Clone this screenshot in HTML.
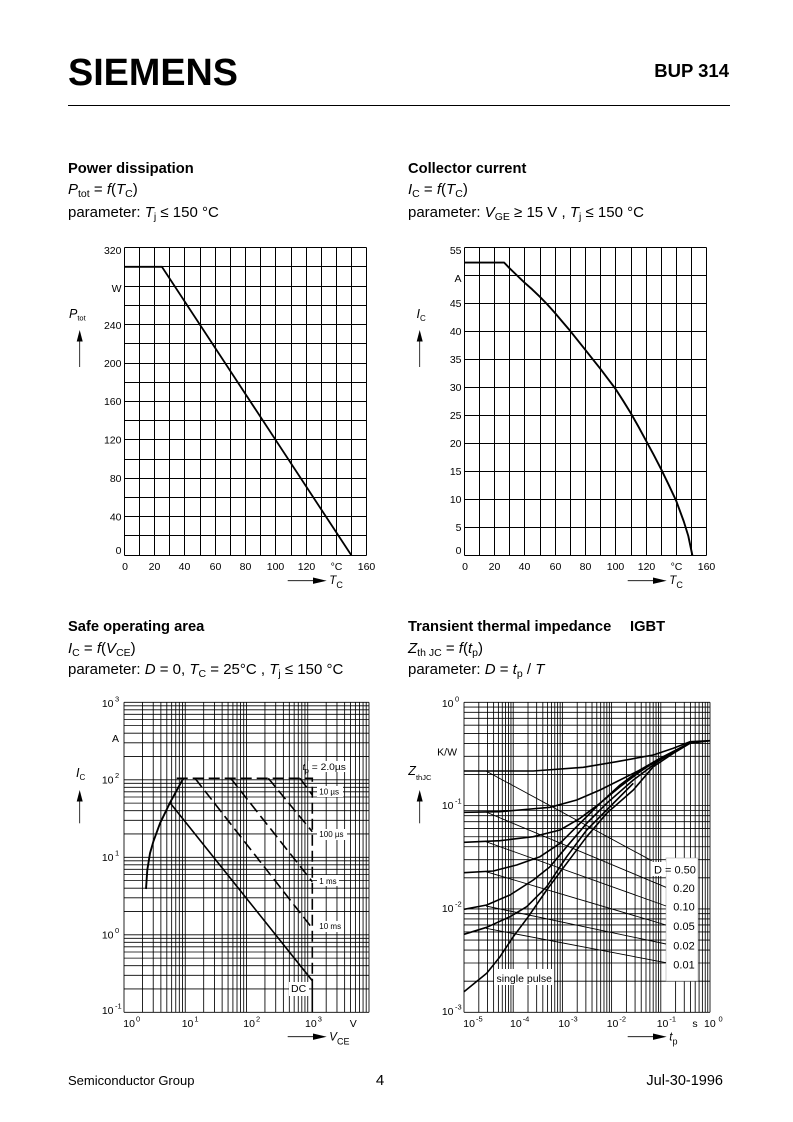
<!DOCTYPE html>
<html><head><meta charset="utf-8"><style>
html,body{margin:0;padding:0;background:#fff;}
svg{display:block;}
text{font-family:"Liberation Sans",Arial,sans-serif;fill:#000;}
</style></head><body>
<svg width="793" height="1122" viewBox="0 0 793 1122" xmlns="http://www.w3.org/2000/svg">
<defs>
<path id="tlv" d="M124.5 247.5V555.5M139.5 247.5V555.5M154.5 247.5V555.5M169.5 247.5V555.5M184.5 247.5V555.5M200.5 247.5V555.5M215.5 247.5V555.5M230.5 247.5V555.5M245.5 247.5V555.5M260.5 247.5V555.5M275.5 247.5V555.5M291.5 247.5V555.5M306.5 247.5V555.5M321.5 247.5V555.5M336.5 247.5V555.5M351.5 247.5V555.5M366.5 247.5V555.5"/>
<path id="sv" d="M0 702.3V1012.3M18.44 702.3V1012.3M29.22 702.3V1012.3M36.88 702.3V1012.3M42.81 702.3V1012.3M47.66 702.3V1012.3M51.76 702.3V1012.3M55.31 702.3V1012.3M58.45 702.3V1012.3"/>
<path id="sh" d="M124 0H369M124 -23.33H369M124 -36.98H369M124 -46.66H369M124 -54.17H369M124 -60.31H369M124 -65.5H369M124 -69.99H369M124 -73.95H369"/>
<path id="tv" d="M0 702.3V1012.3M14.81 702.3V1012.3M23.47 702.3V1012.3M29.62 702.3V1012.3M34.39 702.3V1012.3M38.28 702.3V1012.3M41.58 702.3V1012.3M44.43 702.3V1012.3M46.95 702.3V1012.3"/>
<path id="th" d="M464 0H710M464 -31.11H710M464 -49.3H710M464 -62.21H710M464 -72.23H710M464 -80.41H710M464 -87.33H710M464 -93.32H710M464 -98.6H710"/>
</defs>

<!-- Header -->
<text x="68" y="85" font-size="37.7" font-weight="bold" textLength="170" lengthAdjust="spacingAndGlyphs">SIEMENS</text>
<text x="729" y="77" font-size="18.5" font-weight="bold" text-anchor="end">BUP 314</text>
<line x1="68" y1="105.5" x2="730" y2="105.5" stroke="#000" stroke-width="1"/>

<!-- Titles top -->
<text x="68" y="173" font-size="14.7" font-weight="bold">Power dissipation</text>
<text x="68" y="194" font-size="15"><tspan font-style="italic">P</tspan><tspan font-size="10.5" dy="3">tot</tspan><tspan dy="-3"> = </tspan><tspan font-style="italic">f</tspan>(<tspan font-style="italic">T</tspan><tspan font-size="10.5" dy="3">C</tspan><tspan dy="-3">)</tspan></text>
<text x="68" y="217" font-size="15">parameter: <tspan font-style="italic">T</tspan><tspan font-size="10.5" dy="3">j</tspan><tspan dy="-3"> ≤ 150 °C</tspan></text>

<text x="408" y="173" font-size="14.7" font-weight="bold">Collector current</text>
<text x="408" y="194" font-size="15"><tspan font-style="italic">I</tspan><tspan font-size="10.5" dy="3">C</tspan><tspan dy="-3"> = </tspan><tspan font-style="italic">f</tspan>(<tspan font-style="italic">T</tspan><tspan font-size="10.5" dy="3">C</tspan><tspan dy="-3">)</tspan></text>
<text x="408" y="217" font-size="15">parameter: <tspan font-style="italic">V</tspan><tspan font-size="10.5" dy="3">GE</tspan><tspan dy="-3"> ≥ 15 V , </tspan><tspan font-style="italic">T</tspan><tspan font-size="10.5" dy="3">j</tspan><tspan dy="-3"> ≤ 150 °C</tspan></text>

<!-- Top-left chart -->
<g stroke="#000" stroke-width="1" fill="none">
<use href="#tlv"/>
<path d="M124.5 247.5H366.5M124.5 266.5H366.5M124.5 286.5H366.5M124.5 305.5H366.5M124.5 324.5H366.5M124.5 343.5H366.5M124.5 363.5H366.5M124.5 382.5H366.5M124.5 401.5H366.5M124.5 420.5H366.5M124.5 439.5H366.5M124.5 459.5H366.5M124.5 478.5H366.5M124.5 497.5H366.5M124.5 516.5H366.5M124.5 535.5H366.5M124.5 555.5H366.5"/>
</g>
<path d="M124.5 266.8H161.9L351.5 555.5" fill="none" stroke="#000" stroke-width="1.8"/>
<g font-size="10.5" text-anchor="end">
<text x="121.5" y="254">320</text>
<text x="121.5" y="292">W</text>
<text x="121.5" y="329">240</text>
<text x="121.5" y="367">200</text>
<text x="121.5" y="405">160</text>
<text x="121.5" y="443.5">120</text>
<text x="121.5" y="482">80</text>
<text x="121.5" y="520.5">40</text>
<text x="121.5" y="554">0</text>
</g>
<g font-size="10.5" text-anchor="middle">
<text x="125" y="570">0</text>
<text x="154.5" y="570">20</text>
<text x="184.5" y="570">40</text>
<text x="215.5" y="570">60</text>
<text x="245.5" y="570">80</text>
<text x="275.5" y="570">100</text>
<text x="306.5" y="570">120</text>
<text x="336.5" y="570">°C</text>
<text x="366.5" y="570">160</text>
</g>
<text x="69" y="318" font-size="12.5"><tspan font-style="italic">P</tspan><tspan font-size="7.5" dy="2.5">tot</tspan></text>
<line x1="79.7" y1="341" x2="79.7" y2="367" stroke="#000" stroke-width="0.8"/>
<polygon points="79.7,330 76.7,341.5 82.7,341.5" fill="#000"/>
<line x1="287.7" y1="580.7" x2="314" y2="580.7" stroke="#000" stroke-width="0.8"/>
<polygon points="326.7,580.7 313,577.5 313,583.9" fill="#000"/>
<text x="329.3" y="584" font-size="11.5"><tspan font-style="italic">T</tspan><tspan font-size="9" dy="4">C</tspan></text>

<!-- Top-right chart -->
<g stroke="#000" stroke-width="1" fill="none">
<use href="#tlv" transform="translate(340,0)"/>
<path d="M464.5 247.5H706.5M464.5 275.5H706.5M464.5 303.5H706.5M464.5 331.5H706.5M464.5 359.5H706.5M464.5 387.5H706.5M464.5 415.5H706.5M464.5 443.5H706.5M464.5 471.5H706.5M464.5 499.5H706.5M464.5 527.5H706.5M464.5 555.5H706.5"/>
</g>
<path d="M464.5 262.6H504.2L509.5 268.2L517.1 275.5L524.6 282.7L532.2 289.4L539.8 296.7L547.4 304.5L554.9 312.9L562.5 321.9L570.1 330.8L577.7 340.3L585.3 349.8L592.8 359.3L600.4 368.8L608 378.9L615.6 389L623.1 400.7L630.7 413L638.3 426.4L645.9 440.4L653.5 454.4L661 468.9L668.6 484.6L676.2 500.8L683.8 521.5L688.3 536L692.4 555.5" fill="none" stroke="#000" stroke-width="1.9" stroke-linejoin="round"/>
<g font-size="10.5" text-anchor="end">
<text x="461.5" y="254">55</text>
<text x="461.5" y="282">A</text>
<text x="461.5" y="307.2">45</text>
<text x="461.5" y="335.2">40</text>
<text x="461.5" y="363">35</text>
<text x="461.5" y="391">30</text>
<text x="461.5" y="419">25</text>
<text x="461.5" y="447">20</text>
<text x="461.5" y="475">15</text>
<text x="461.5" y="503">10</text>
<text x="461.5" y="531">5</text>
<text x="461.5" y="554">0</text>
</g>
<g font-size="10.5" text-anchor="middle">
<text x="465" y="570">0</text>
<text x="494.5" y="570">20</text>
<text x="524.5" y="570">40</text>
<text x="555.5" y="570">60</text>
<text x="585.5" y="570">80</text>
<text x="615.5" y="570">100</text>
<text x="646.5" y="570">120</text>
<text x="676.5" y="570">°C</text>
<text x="706.5" y="570">160</text>
</g>
<text x="416.5" y="318" font-size="12.5"><tspan font-style="italic">I</tspan><tspan font-size="8" dy="3">C</tspan></text>
<line x1="419.7" y1="341" x2="419.7" y2="367" stroke="#000" stroke-width="0.8"/>
<polygon points="419.7,330 416.7,341.5 422.7,341.5" fill="#000"/>
<line x1="627.7" y1="580.7" x2="654" y2="580.7" stroke="#000" stroke-width="0.8"/>
<polygon points="666.7,580.7 653,577.5 653,583.9" fill="#000"/>
<text x="669.3" y="584" font-size="11.5"><tspan font-style="italic">T</tspan><tspan font-size="9" dy="4">C</tspan></text>

<!-- Titles bottom -->
<text x="68" y="631" font-size="14.7" font-weight="bold">Safe operating area</text>
<text x="68" y="653" font-size="15"><tspan font-style="italic">I</tspan><tspan font-size="10.5" dy="3">C</tspan><tspan dy="-3"> = </tspan><tspan font-style="italic">f</tspan>(<tspan font-style="italic">V</tspan><tspan font-size="10.5" dy="3">CE</tspan><tspan dy="-3">)</tspan></text>
<text x="68" y="674" font-size="15">parameter: <tspan font-style="italic">D</tspan> = 0, <tspan font-style="italic">T</tspan><tspan font-size="10.5" dy="3">C</tspan><tspan dy="-3"> = 25°C , </tspan><tspan font-style="italic">T</tspan><tspan font-size="10.5" dy="3">j</tspan><tspan dy="-3"> ≤ 150 °C</tspan></text>

<text x="408" y="631" font-size="14.7" font-weight="bold">Transient thermal impedance</text>
<text x="630" y="631" font-size="14.7" font-weight="bold">IGBT</text>
<text x="408" y="653" font-size="15"><tspan font-style="italic">Z</tspan><tspan font-size="10.5" dy="3">th JC</tspan><tspan dy="-3"> = </tspan><tspan font-style="italic">f</tspan>(<tspan font-style="italic">t</tspan><tspan font-size="10.5" dy="3">p</tspan><tspan dy="-3">)</tspan></text>
<text x="408" y="674" font-size="15">parameter: <tspan font-style="italic">D</tspan> = <tspan font-style="italic">t</tspan><tspan font-size="10.5" dy="3">p</tspan><tspan dy="-3"> / </tspan><tspan font-style="italic">T</tspan></text>

<!-- SOA chart -->
<g stroke="#000" stroke-width="0.85" fill="none">
<use href="#sv" transform="translate(124,0)"/>
<use href="#sv" transform="translate(185.25,0)"/>
<use href="#sv" transform="translate(246.5,0)"/>
<use href="#sv" transform="translate(307.75,0)"/>
<path d="M369 702.3V1012.3M124 702.3H369"/>
<use href="#sh" transform="translate(0,1012.3)"/>
<use href="#sh" transform="translate(0,934.8)"/>
<use href="#sh" transform="translate(0,857.3)"/>
<use href="#sh" transform="translate(0,779.8)"/>
</g>
<g fill="#fff">
<rect x="308" y="761" width="41" height="11"/>
<rect x="317" y="786" width="26" height="11"/>
<rect x="317" y="829" width="30" height="11"/>
<rect x="317" y="875" width="22" height="11"/>
<rect x="317" y="921" width="27" height="11"/>
<rect x="289" y="982" width="20" height="14"/>
</g>
<path d="M146 889L147.3 870L150 853.3L153.3 841.7L160 823.3L170 802.7L183.3 778.3" fill="none" stroke="#000" stroke-width="1.9" stroke-linejoin="round"/>
<path d="M170 802.7L312.3 980.7V1012.3" fill="none" stroke="#000" stroke-width="1.6"/>
<g fill="none" stroke="#000" stroke-width="1.6" stroke-dasharray="11 5">
<path d="M176.7 778.3H312.3V980.7"/>
<path d="M195 778.3L312.3 928.3"/>
<path d="M230.7 778.3L312.3 881.7"/>
<path d="M268.3 778.3L312.3 831.7"/>
<path d="M300 778.3L312.3 795"/>
</g>
<text x="302.5" y="770" font-size="9"><tspan font-style="italic">t</tspan><tspan font-size="7" dy="3">p</tspan><tspan dy="-3" textLength="37" lengthAdjust="spacingAndGlyphs"> = 2.0µs</tspan></text>
<g font-size="8">
<text x="319.3" y="794.5">10 µs</text>
<text x="319.3" y="837">100 µs</text>
<text x="319.3" y="884">1 ms</text>
<text x="319.3" y="929">10 ms</text>
</g>
<text x="291" y="992" font-size="10.5">DC</text>
<g font-size="10.5">
<text x="113.5" y="707" text-anchor="end">10</text><text x="115" y="701.5" font-size="7.5">3</text>
<text x="119" y="742" text-anchor="end">A</text>
<text x="113.5" y="783.5" text-anchor="end">10</text><text x="115" y="778" font-size="7.5">2</text>
<text x="113.5" y="861" text-anchor="end">10</text><text x="115" y="855.5" font-size="7.5">1</text>
<text x="113.5" y="938.5" text-anchor="end">10</text><text x="115" y="933" font-size="7.5">0</text>
<text x="113.5" y="1014" text-anchor="end">10</text><text x="115" y="1008.5" font-size="7.5">-1</text>
<text x="123.3" y="1027">10</text><text x="136" y="1021.5" font-size="7.5">0</text>
<text x="181.7" y="1027">10</text><text x="194.4" y="1021.5" font-size="7.5">1</text>
<text x="243.3" y="1027">10</text><text x="256" y="1021.5" font-size="7.5">2</text>
<text x="305" y="1027">10</text><text x="317.7" y="1021.5" font-size="7.5">3</text>
<text x="353.3" y="1027" text-anchor="middle">V</text>
</g>
<text x="76" y="777" font-size="12.5"><tspan font-style="italic">I</tspan><tspan font-size="8" dy="3">C</tspan></text>
<line x1="79.7" y1="801" x2="79.7" y2="823.3" stroke="#000" stroke-width="0.8"/>
<polygon points="79.7,790 76.7,801.5 82.7,801.5" fill="#000"/>
<line x1="287.7" y1="1036.7" x2="314" y2="1036.7" stroke="#000" stroke-width="0.8"/>
<polygon points="326.7,1036.7 313,1033.5 313,1039.9" fill="#000"/>
<text x="329.3" y="1040.5" font-size="11.5"><tspan font-style="italic">V</tspan><tspan font-size="9" dy="4">CE</tspan></text>

<!-- Thermal chart -->
<g stroke="#000" stroke-width="0.85" fill="none">
<use href="#tv" transform="translate(464,0)"/>
<use href="#tv" transform="translate(513.2,0)"/>
<use href="#tv" transform="translate(562.4,0)"/>
<use href="#tv" transform="translate(611.6,0)"/>
<use href="#tv" transform="translate(660.8,0)"/>
<path d="M710 702.3V1012.3M464 702.3H710"/>
<use href="#th" transform="translate(0,1012.3)"/>
<use href="#th" transform="translate(0,908.97)"/>
<use href="#th" transform="translate(0,805.63)"/>
</g>
<rect x="666" y="858" width="32" height="123" fill="#fff" stroke="#999" stroke-width="0.5"/>
<rect x="652" y="862" width="14" height="14" fill="#fff"/>
<rect x="494" y="969" width="60" height="16" fill="#fff"/>
<g fill="none" stroke="#000" stroke-width="0.9">
<path d="M486 771L651.7 860.7"/>
<path d="M486 812L666 887.3"/>
<path d="M486 841.7L666 906"/>
<path d="M486 871.7L666 925"/>
<path d="M486 906L666 944"/>
<path d="M486 928.3L666 962.7"/>
</g>
<g fill="none" stroke="#000" stroke-width="1.6" stroke-linejoin="round">
<path d="M464 771L533.3 771L583.3 767.3L616.7 761.7L653.3 755L673.3 748.3L690 741.7L710 740.7"/>
<path d="M464 812.3L500 811.7L550 807.3L576.7 800L600 790L620 780L640 770L660 760L690 742.7"/>
<path d="M464 842.3L500 840.7L533.3 836.7L560 830L580 818.3L600 803.3L620 786.7L640 771.7L660 758.3L690 742.7"/>
<path d="M464 872.7L493.3 871L516.7 865L540 856.7L560 843.3L580 823.3L600 803.3L620 785L640 770L660 758.3"/>
<path d="M464 909.3L486.7 905L510 895L533.3 880L550 866.7L566.7 846.7L586.7 823.3L606.7 803.3L633.3 780L660 760"/>
<path d="M464 934.3L486.7 927.3L510 916.7L526.7 906.7L546.7 886.7L566.7 856.7L586.7 830L606.7 810L633.3 783.3"/>
<path d="M464 991.7L486.7 973.3L500 956.7L513.3 936.7L528.3 916.7L546.7 890L566.7 863.3L586.7 836.7L606.7 813.3L633.3 790L653.3 766.7L673.3 753.3L690 743.3L710 740.7"/>
</g>
<text x="496.5" y="982" font-size="10.5">single pulse</text>
<g font-size="11">
<text x="654" y="873.3">D = 0.50</text>
<text x="673.3" y="892">0.20</text>
<text x="673.3" y="910.7">0.10</text>
<text x="673.3" y="930">0.05</text>
<text x="673.3" y="949.3">0.02</text>
<text x="673.3" y="968.3">0.01</text>
</g>
<g font-size="10.5">
<text x="453.5" y="707" text-anchor="end">10</text><text x="455" y="701.5" font-size="7.5">0</text>
<text x="457" y="755.5" text-anchor="end">K/W</text>
<text x="453.5" y="809" text-anchor="end">10</text><text x="455" y="803.5" font-size="7.5">-1</text>
<text x="453.5" y="912" text-anchor="end">10</text><text x="455" y="906.5" font-size="7.5">-2</text>
<text x="453.5" y="1015" text-anchor="end">10</text><text x="455" y="1009.5" font-size="7.5">-3</text>
<text x="463.3" y="1027">10</text><text x="476" y="1021.5" font-size="7.5">-5</text>
<text x="510" y="1027">10</text><text x="522.7" y="1021.5" font-size="7.5">-4</text>
<text x="558.3" y="1027">10</text><text x="571" y="1021.5" font-size="7.5">-3</text>
<text x="606.7" y="1027">10</text><text x="619.4" y="1021.5" font-size="7.5">-2</text>
<text x="656.7" y="1027">10</text><text x="669.4" y="1021.5" font-size="7.5">-1</text>
<text x="695" y="1027" text-anchor="middle">s</text>
<text x="704" y="1027">10</text><text x="718.5" y="1021.5" font-size="7.5">0</text>
</g>
<text x="408.3" y="775" font-size="12.5"><tspan font-style="italic">Z</tspan><tspan font-size="7.5" dy="5">thJC</tspan></text>
<line x1="419.7" y1="801" x2="419.7" y2="823.3" stroke="#000" stroke-width="0.8"/>
<polygon points="419.7,790 416.7,801.5 422.7,801.5" fill="#000"/>
<line x1="627.7" y1="1036.7" x2="654" y2="1036.7" stroke="#000" stroke-width="0.8"/>
<polygon points="666.7,1036.7 653,1033.5 653,1039.9" fill="#000"/>
<text x="669.3" y="1040.5" font-size="11.5"><tspan font-style="italic">t</tspan><tspan font-size="9" dy="4">p</tspan></text>

<!-- Footer -->
<text x="68" y="1085" font-size="13">Semiconductor Group</text>
<text x="380" y="1085" font-size="15" text-anchor="middle">4</text>
<text x="723" y="1085" font-size="14.5" text-anchor="end">Jul-30-1996</text>
</svg>
</body></html>
